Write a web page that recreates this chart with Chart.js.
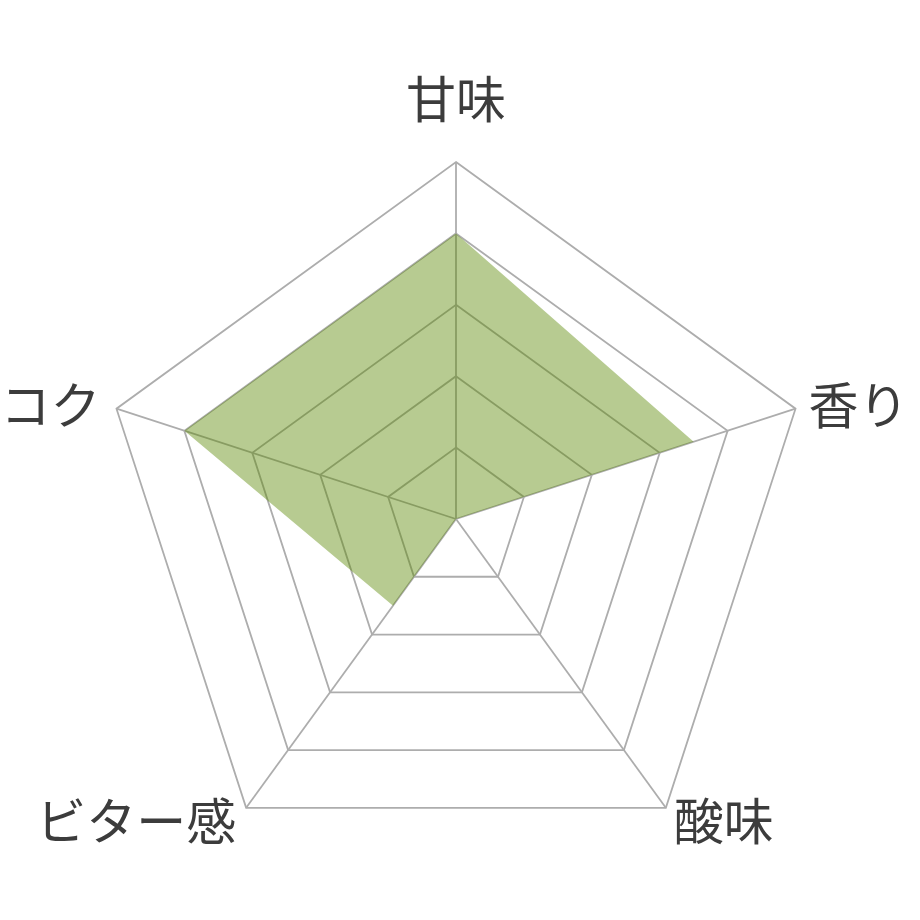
<!DOCTYPE html>
<html>
<head>
<meta charset="utf-8">
<script src="https://cdn.jsdelivr.net/npm/chart.js@4.4.0/dist/chart.umd.min.js"></script>
<style>
  html, body { margin: 0; padding: 0; background: #ffffff; overflow: hidden; }
  #wrap { width: 920px; height: 920px; position: relative; }
</style>
</head>
<body>
<div id="wrap"><canvas id="c"></canvas></div>
<script>
// Data
const categories = ['甘味', '香り', '酸味', 'ビター感', 'コク'];
const tasteValues = [4, 3.5, 0, 1.5, 4];
const scaleMin = 0;
const scaleMax = 5;
const scaleStep = 1;

// Draw axis labels around the radar
const labelPlugin = {
  id: 'outerLabels',
  afterDraw(chart) {
    const s = chart.scales.r;
    const ctx = chart.ctx;
    ctx.save();
    ctx.font = '400 50px "Noto Sans CJK JP", "Noto Sans", sans-serif';
    ctx.fillStyle = '#3c3c3c';
    ctx.textBaseline = 'middle';
    categories.forEach((lab, i) => {
      const p = s.getPointPosition(i, s.drawingArea);
      const dx = p.x - s.xCenter;
      const dy = p.y - s.yCenter;
      let x = p.x, y = p.y;
      if (Math.abs(dx) < 1) {
        ctx.textAlign = 'center';
        y = p.y - 63;
      } else if (dy < 0) {
        ctx.textAlign = dx > 0 ? 'left' : 'right';
        x = p.x + (dx > 0 ? 13 : -16);
        y = p.y - 4;
      } else {
        ctx.textAlign = dx > 0 ? 'left' : 'right';
        x = p.x + (dx > 0 ? 8 : -10);
        y = p.y + 13;
      }
      ctx.fillText(lab, x, y);
    });
    ctx.restore();
  }
};

new Chart(document.getElementById('c'), {
  type: 'radar',
  data: {
    labels: categories,
    datasets: [{
      data: tasteValues,
      backgroundColor: 'rgba(88,134,0,0.43)',
      borderWidth: 0,
      pointRadius: 0,
      pointHoverRadius: 0,
      fill: true
    }]
  },
  options: {
    responsive: true,
    maintainAspectRatio: false,
    animation: false,
    layout: { padding: { left: 99, right: 107, top: 162, bottom: 44 } },
    plugins: { legend: { display: false }, tooltip: { enabled: false } },
    elements: { line: { tension: 0 } },
    scales: {
      r: {
        min: scaleMin,
        max: scaleMax,
        beginAtZero: true,
        ticks: { display: false, stepSize: scaleStep },
        grid: { color: '#adadad', lineWidth: 1.8 },
        angleLines: { color: '#adadad', lineWidth: 1.8 },
        pointLabels: { display: false }
      }
    }
  },
  plugins: [labelPlugin]
});
</script>
</body>
</html>
